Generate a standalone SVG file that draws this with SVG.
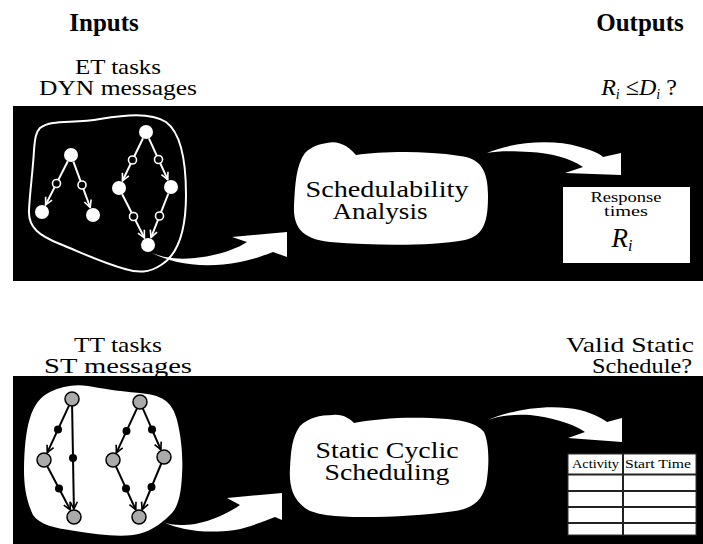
<svg xmlns="http://www.w3.org/2000/svg" width="703" height="544" viewBox="0 0 703 544">
<style>
  .t { font-family: "Liberation Serif", "DejaVu Serif", serif; fill: #000; }
  .h { font-size: 25px; font-weight: bold; text-anchor: middle; }
  .l { font-size: 22px; text-anchor: middle; }
  .in { font-size: 24px; text-anchor: middle; }
  .wl { stroke: #fff; stroke-width: 2; fill: none; }
  .bl { stroke: #000; stroke-width: 2; fill: none; }
  .wn { fill: #fff; }
  .hc { fill: #000; stroke: #fff; stroke-width: 1.6; }
  .gn { fill: #aaaaaa; stroke: #000; stroke-width: 1.5; }
  .bd { fill: #000; }
  .arr { fill: #fff; }
</style>
<defs>
  <marker id="mw" viewBox="0 0 10 10" refX="9" refY="5" markerWidth="9" markerHeight="9" markerUnits="userSpaceOnUse" orient="auto">
    <path d="M1,1 L9,5 L1,9" fill="none" stroke="#fff" stroke-width="1.8"/>
  </marker>
  <marker id="mb" viewBox="0 0 10 10" refX="9" refY="5" markerWidth="9" markerHeight="9" markerUnits="userSpaceOnUse" orient="auto">
    <path d="M1,1 L9,5 L1,9" fill="none" stroke="#000" stroke-width="1.8"/>
  </marker>
</defs>
<rect width="703" height="544" fill="#fff"/>

<!-- headings -->
<g id="headings">
  <text class="t h" x="104" y="31">Inputs</text>
  <text class="t h" x="640" y="31">Outputs</text>
</g>
<g id="input-labels">
  <text class="t l" x="118" y="74" textLength="86" lengthAdjust="spacingAndGlyphs">ET tasks</text>
  <text class="t l" x="118" y="95" textLength="158" lengthAdjust="spacingAndGlyphs">DYN messages</text>
  <text class="t l" x="118" y="352" textLength="88" lengthAdjust="spacingAndGlyphs">TT tasks</text>
  <text class="t l" x="118" y="373" textLength="148" lengthAdjust="spacingAndGlyphs">ST messages</text>
</g>
<g id="output-labels">
  <text class="t" x="639" y="95" font-size="24" text-anchor="middle"><tspan font-style="italic">R</tspan><tspan font-style="italic" font-size="14" dy="4">i</tspan><tspan dy="-4"> ≤</tspan><tspan font-style="italic">D</tspan><tspan font-style="italic" font-size="14" dy="4">i</tspan><tspan dy="-4"> ?</tspan></text>
  <text class="t l" x="630" y="352" textLength="128" lengthAdjust="spacingAndGlyphs">Valid Static</text>
  <text class="t l" x="642" y="373" textLength="100" lengthAdjust="spacingAndGlyphs">Schedule?</text>
</g>

<!-- panels -->
<rect id="panel-top" x="13" y="106" width="690" height="175" fill="#000"/>
<rect id="panel-bottom" x="13" y="376" width="690" height="168" fill="#000"/>

<!-- top: ET task graph -->
<g id="et-graph">
  <path class="wl" d="M40,128 C52,119 72,124 100,119 C125,115 150,112 166,122 C181,133 186,160 186,195 C186,230 179,254 161,265 C149,273 138,273 125,269 C100,262 80,252 60,244 C40,236 28,228 29,210 C30,190 33,170 34,150 C35,138 36,132 40,128 Z"/>
  <g id="et-edges">
    <line class="wl" x1="67.8" y1="161.2" x2="45.6" y2="204.9" marker-end="url(#mw)"/>
    <line class="wl" x1="73.4" y1="161.6" x2="90.2" y2="207.5" marker-end="url(#mw)"/>
    <line class="wl" x1="143" y1="138.3" x2="122.5" y2="180.8" marker-end="url(#mw)"/>
    <line class="wl" x1="148.9" y1="138.4" x2="167.7" y2="179.7" marker-end="url(#mw)"/>
    <line class="wl" x1="122.2" y1="194.2" x2="144.4" y2="237.9" marker-end="url(#mw)"/>
    <line class="wl" x1="168.4" y1="193.5" x2="151" y2="237.6" marker-end="url(#mw)"/>
  </g>
  <g id="et-messages">
    <circle class="hc" cx="56.5" cy="183.5" r="4"/>
    <circle class="hc" cx="82" cy="185" r="4"/>
    <circle class="hc" cx="132.5" cy="160" r="4"/>
    <circle class="hc" cx="158.5" cy="159.5" r="4"/>
    <circle class="hc" cx="133.5" cy="216.5" r="4"/>
    <circle class="hc" cx="159.5" cy="216" r="4"/>
  </g>
  <g id="et-tasks">
    <circle class="wn" cx="71" cy="155" r="7"/>
    <circle class="wn" cx="42" cy="212" r="7"/>
    <circle class="wn" cx="93" cy="215" r="7"/>
    <circle class="wn" cx="146" cy="132" r="7"/>
    <circle class="wn" cx="119" cy="188" r="7"/>
    <circle class="wn" cx="171" cy="187" r="7"/>
    <circle class="wn" cx="148" cy="245" r="7"/>
  </g>
</g>

<!-- Schedulability Analysis -->
<g id="schedulability-analysis">
  <path class="wn" d="M327,143 C340,140 350,148 356,155 C380,152 420,150 460,156 C480,158 488,170 488,195 C488,220 485,235 465,240 C430,246 380,246 330,242 C300,239 293,225 294,205 C295,185 296,165 305,153 C312,146 320,144 327,143 Z"/>
  <text class="t in" x="387" y="197" textLength="163" lengthAdjust="spacingAndGlyphs">Schedulability</text>
  <text class="t in" x="380" y="219" textLength="95" lengthAdjust="spacingAndGlyphs">Analysis</text>
</g>

<!-- Response times box -->
<g id="response-times">
  <rect x="563" y="187" width="127" height="76" fill="#fff"/>
  <text class="t" x="626" y="202" font-size="15" text-anchor="middle" textLength="71" lengthAdjust="spacingAndGlyphs">Response</text>
  <text class="t" x="626" y="216" font-size="15" text-anchor="middle" textLength="44" lengthAdjust="spacingAndGlyphs">times</text>
  <text class="t" x="622" y="247" font-size="27" font-style="italic" text-anchor="middle">R<tspan font-size="16" dy="4">i</tspan></text>
</g>

<!-- bottom: TT task graph -->
<g id="tt-graph">
  <path class="wn" d="M50,392 C62,386 75,384 88,386 C100,388 115,391 140,393 C160,395 172,400 177,420 C182,440 183,460 182,475 C181,495 178,508 170,515 C160,525 148,533 133,535 C115,537 95,534 75,531 C55,528 40,525 33,515 C26,500 24,485 24,470 C24,450 26,430 30,418 C34,405 40,397 50,392 Z"/>
  <g id="tt-edges">
    <line class="bl" x1="69.1" y1="405.4" x2="47.3" y2="452.7" marker-end="url(#mb)"/>
    <line class="bl" x1="72.1" y1="406" x2="73.9" y2="509" marker-end="url(#mb)"/>
    <line class="bl" x1="47.3" y1="466.2" x2="70.3" y2="509.9" marker-end="url(#mb)"/>
    <line class="bl" x1="137" y1="408.3" x2="116.4" y2="452.8" marker-end="url(#mb)"/>
    <line class="bl" x1="142.8" y1="408.4" x2="160.8" y2="449.7" marker-end="url(#mb)"/>
    <line class="bl" x1="115.9" y1="466.4" x2="135.7" y2="509.7" marker-end="url(#mb)"/>
    <line class="bl" x1="161.3" y1="463.5" x2="142.1" y2="509.6" marker-end="url(#mb)"/>
  </g>
  <g id="tt-messages">
    <circle class="bd" cx="58" cy="429.5" r="4"/>
    <circle class="bd" cx="73" cy="458" r="4"/>
    <circle class="bd" cx="59" cy="488.5" r="4"/>
    <circle class="bd" cx="126.5" cy="431" r="4"/>
    <circle class="bd" cx="152" cy="429.5" r="4"/>
    <circle class="bd" cx="126" cy="488.5" r="4"/>
    <circle class="bd" cx="151.5" cy="487" r="4"/>
  </g>
  <g id="tt-tasks">
    <circle class="gn" cx="72" cy="399" r="7"/>
    <circle class="gn" cx="44" cy="460" r="7"/>
    <circle class="gn" cx="74" cy="517" r="7"/>
    <circle class="gn" cx="140" cy="402" r="7"/>
    <circle class="gn" cx="113" cy="460" r="7"/>
    <circle class="gn" cx="164" cy="457" r="7"/>
    <circle class="gn" cx="139" cy="517" r="7"/>
  </g>
</g>

<!-- Static Cyclic Scheduling -->
<g id="static-cyclic-scheduling">
  <path class="wn" d="M333,415 C343,414 350,419 354,423 C375,419 400,417 430,418 C455,419 475,421 484,432 C490,445 489,470 486,485 C482,500 474,508 455,511 C425,515 395,517 363,517 C335,517 315,515 305,508 C292,498 289,485 290,468 C291,450 292,437 300,426 C308,418 320,415 333,415 Z"/>
  <text class="t in" x="387" y="458" textLength="143" lengthAdjust="spacingAndGlyphs">Static Cyclic</text>
  <text class="t in" x="387" y="480" textLength="125" lengthAdjust="spacingAndGlyphs">Scheduling</text>
</g>

<!-- schedule table -->
<g id="schedule-table">
  <rect x="568" y="454" width="128" height="81" fill="#fff" stroke="#333" stroke-width="1"/>
  <g stroke="#222" stroke-width="2">
    <line x1="623" y1="454" x2="623" y2="535"/>
    <line x1="568" y1="474.5" x2="696" y2="474.5"/>
    <line x1="568" y1="491" x2="696" y2="491"/>
    <line x1="568" y1="507" x2="696" y2="507"/>
    <line x1="568" y1="523" x2="696" y2="523"/>
  </g>
  <text class="t" x="595.5" y="467.5" font-size="13" text-anchor="middle" textLength="47" lengthAdjust="spacingAndGlyphs">Activity</text>
  <text class="t" x="658" y="467.5" font-size="13" text-anchor="middle" textLength="66" lengthAdjust="spacingAndGlyphs">Start Time</text>
</g>

<!-- connectors -->
<g id="connectors">
  <path class="arr" d="M152,253 C170,262 200,270 240,262 C255,259 265,255 273,252 L287,257 L287,232 L232,237 L247,242 C235,250 215,256 195,258 C175,260 162,257 152,253 Z"/>
  <path class="arr" d="M487,153 C510,143 550,138 580,147 C592,150 600,154 603,157 L621,153 L621,175 L565,173 L583,167 C570,158 550,153 530,152 C512,151 497,151 487,153 Z"/>
  <path class="arr" d="M163,522 C180,530 205,534 235,530 C250,527 265,521 275,517 L282,520 L282,493 L227,498 L240,505 C230,512 215,520 195,524 C180,526 170,525 163,522 Z"/>
  <path class="arr" d="M488,420 C510,410 550,403 580,410 C595,414 603,419 607,422 L622,418 L622,442 L568,438 L585,432 C572,423 550,417 530,415 C512,414 498,416 488,420 Z"/>
</g>
</svg>
